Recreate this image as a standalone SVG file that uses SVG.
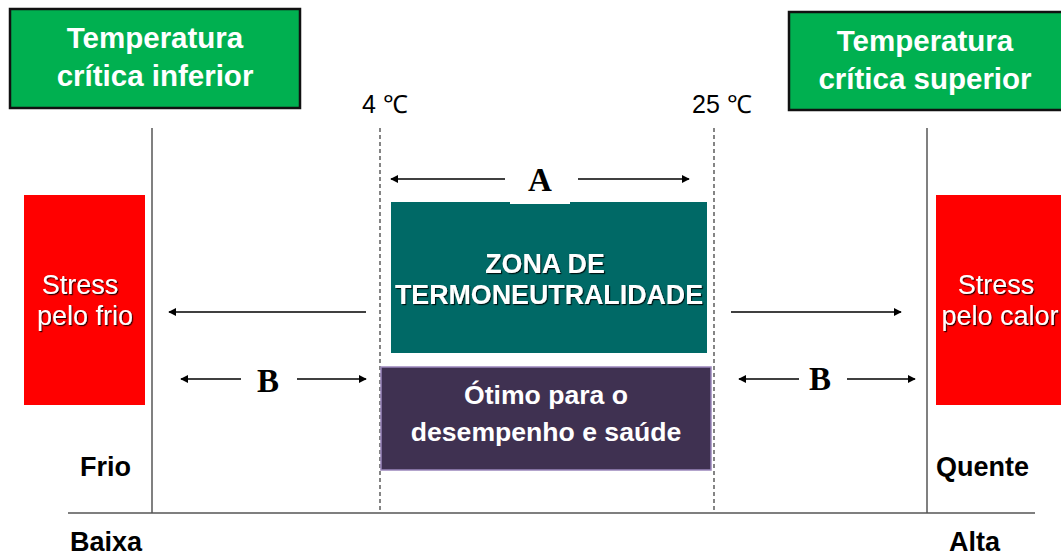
<svg xmlns="http://www.w3.org/2000/svg" width="1061" height="555" viewBox="0 0 1061 555">
<defs>
<style>
text{font-family:"Liberation Sans",Arial,sans-serif}
.hdr{font-size:29.5px;font-weight:bold;fill:#fff;text-anchor:middle}
.str{font-size:27px;fill:#fff;text-anchor:middle}
.zone{font-size:26.8px;font-weight:bold;fill:#fff;text-anchor:middle}
.opt{font-size:26.6px;font-weight:bold;fill:#fff;text-anchor:middle}
.lbl{font-size:27px;font-weight:bold;fill:#000}
.tmp{font-size:25px;fill:#000}
.let{font-family:"Liberation Serif","Times New Roman",serif;font-size:33px;font-weight:bold;fill:#000;text-anchor:middle}
.arr{stroke:#000;stroke-width:1.3;fill:none;marker-end:url(#ah)}
.vline{stroke:#808080;stroke-width:2}
.dash{stroke:#444;stroke-width:1.3;stroke-dasharray:4,3}
</style>
<marker id="ah" viewBox="0 0 10 10" refX="9" refY="5" markerWidth="8" markerHeight="8" markerUnits="userSpaceOnUse" orient="auto">
<path d="M0,0 L10,5 L0,10 Z" fill="#000"/>
</marker>
<filter id="sh" x="-10%" y="-20%" width="120%" height="140%">
<feDropShadow dx="1.2" dy="1.2" stdDeviation="0.4" flood-color="#000" flood-opacity="0.8"/>
</filter>
</defs>
<rect width="1061" height="555" fill="#fff"/>

<g id="axes">
<line class="vline" x1="152" y1="128" x2="152" y2="513"/>
<line class="vline" x1="927" y1="128" x2="927" y2="513"/>
<line class="dash" x1="380" y1="128" x2="380" y2="513"/>
<line class="dash" x1="714" y1="128" x2="714" y2="513"/>
<line x1="68" y1="513" x2="1035" y2="513" stroke="#555" stroke-width="1.5"/>
</g>

<g id="tci">
<rect x="10" y="9" width="290" height="99" fill="#00B050" stroke="#111" stroke-width="2.5"/>
<text class="hdr" x="155" y="48">Temperatura</text>
<text class="hdr" x="155" y="86">crítica inferior</text>
</g>
<g id="tcs">
<rect x="789" y="12" width="280" height="98" fill="#00B050" stroke="#111" stroke-width="2.5"/>
<text class="hdr" x="925" y="51">Temperatura</text>
<text class="hdr" x="925" y="89">crítica superior</text>
</g>

<g id="t4"><text class="tmp" x="362" y="113">4 ℃</text></g>
<g id="t25"><text class="tmp" x="692" y="113">25 ℃</text></g>

<g id="stressFrio">
<rect x="24" y="195" width="121" height="210" fill="#FF0000"/>
<text class="str" x="80" y="294" filter="url(#sh)">Stress</text>
<text class="str" x="85" y="325" filter="url(#sh)">pelo frio</text>
</g>
<g id="stressCalor">
<rect x="936" y="195" width="130" height="210" fill="#FF0000"/>
<text class="str" x="996" y="294" filter="url(#sh)">Stress</text>
<text class="str" x="1000" y="325" filter="url(#sh)">pelo calor</text>
</g>

<g id="zona">
<rect x="391" y="202" width="316" height="151" fill="#006966"/>
<rect x="510" y="195" width="60" height="9" fill="#fff"/>
<text class="zone" x="545" y="273" filter="url(#sh)">ZONA DE</text>
<text class="zone" x="549" y="304" filter="url(#sh)">TERMONEUTRALIDADE</text>
</g>

<g id="otimo">
<rect x="381" y="367" width="330" height="103" fill="#3F3151" stroke="#9B87BC" stroke-width="1.5"/>
<text class="opt" x="546" y="404">Ótimo para o</text>
<text class="opt" x="546" y="441">desempenho e saúde</text>
</g>

<g id="labels">
<text class="lbl" x="80" y="476">Frio</text>
<text class="lbl" x="936" y="476">Quente</text>
<text class="lbl" x="70" y="551">Baixa</text>
<text class="lbl" x="949" y="551">Alta</text>
<text class="let" x="540" y="191">A</text>
<text class="let" x="268" y="392">B</text>
<text class="let" x="820" y="390">B</text>
</g>

<g id="connectors">
<line class="arr" x1="505" y1="179" x2="391" y2="179"/>
<line class="arr" x1="578" y1="179" x2="689" y2="179"/>
<line class="arr" x1="366" y1="312" x2="169" y2="312"/>
<line class="arr" x1="731" y1="312" x2="901" y2="312"/>
<line class="arr" x1="241" y1="379" x2="181" y2="379"/>
<line class="arr" x1="297" y1="379" x2="366" y2="379"/>
<line class="arr" x1="799" y1="379" x2="739" y2="379"/>
<line class="arr" x1="847" y1="379" x2="915" y2="379"/>
</g>
</svg>
